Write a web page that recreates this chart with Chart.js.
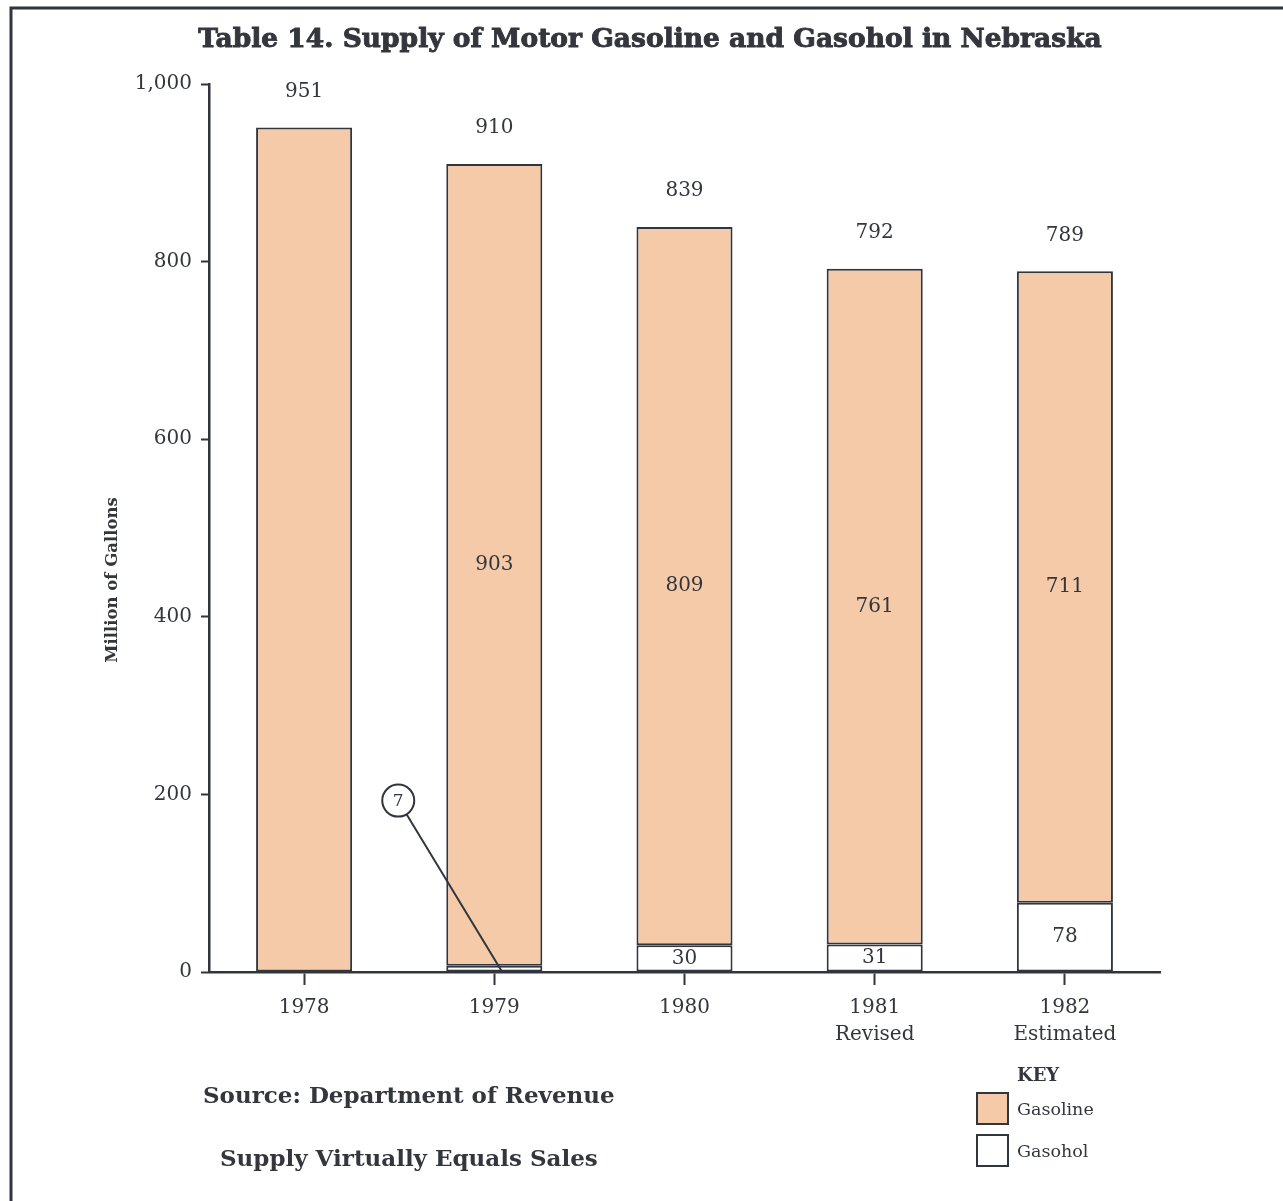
<!DOCTYPE html>
<html>
<head>
<meta charset="utf-8">
<script src="https://cdn.jsdelivr.net/npm/chart.js@4.4.0/dist/chart.umd.min.js"></script>
<style>
  body { margin: 0; background: #fff; }
  #wrap { width: 1283px; height: 1201px; }
</style>
</head>
<body>
<div id="wrap"><canvas id="chart" width="1283" height="1201"></canvas></div>
<script>
// Supply of motor gasoline and gasohol, million gallons
var years = [['1978'], ['1979'], ['1980'], ['1981', 'Revised'], ['1982', 'Estimated']];
var gasohol = [0, 7, 30, 31, 78];
var gasoline = [951, 903, 809, 761, 711];
var totals = [951, 910, 839, 792, 789];
var yTicks = [0, 200, 400, 600, 800, 1000];

var ink = '#30353e';
var textInk = '#33363c';
var peach = '#f4caa9';
var serif = '"DejaVu Serif", serif';

// labels, callout, key and notes drawn on top of the bars
var extras = {
    id: 'extras',
    afterDatasetsDraw: function (chart) {
        var c = chart.ctx;
        var yScale = chart.scales.y;
        var low = chart.getDatasetMeta(0).data;
        var high = chart.getDatasetMeta(1).data;
        c.save();

        // frame
        c.strokeStyle = ink;
        c.lineWidth = 3;
        c.beginPath();
        c.moveTo(11, 1201);
        c.lineTo(11, 8);
        c.lineTo(1283, 8);
        c.stroke();

        c.fillStyle = textInk;
        c.textAlign = 'center';
        c.textBaseline = 'middle';
        c.font = 'bold 26.5px ' + serif;
        c.strokeStyle = textInk;
        c.lineWidth = 0.9;
        var title = 'Table 14. Supply of Motor Gasoline and Gasohol in Nebraska';
        c.fillText(title, 650, 40);
        c.strokeText(title, 650, 40);

        c.save();
        c.translate(113, 580);
        c.rotate(-Math.PI / 2);
        c.font = 'bold 16.5px ' + serif;
        c.fillText('Million of Gallons', 0, 0);
        c.restore();

        // value labels
        c.font = '20px ' + serif;
        totals.forEach(function (t, i) {
            var top = high[i];
            c.fillText(String(t), top.x, top.y - 36);
            if (gasohol[i] > 0) {
                c.fillText(String(gasoline[i]), top.x, (top.y + top.base) / 2);
            }
            if (gasohol[i] >= 10) {
                c.fillText(String(gasohol[i]), low[i].x, (low[i].y + low[i].base) / 2);
            }
        });

        // callout for the tiny gasohol value
        gasohol.forEach(function (v, i) {
            if (v <= 0 || v >= 10) return;
            var bar = low[i];
            var cx = bar.x - bar.width, cy = yScale.getPixelForValue(193), r = 16;
            var ex = bar.x + 7, ey = yScale.getPixelForValue(v / 4);
            var ang = Math.atan2(ey - cy, ex - cx);
            c.strokeStyle = ink;
            c.lineWidth = 2;
            c.beginPath();
            c.arc(cx, cy, r, 0, Math.PI * 2);
            c.stroke();
            c.beginPath();
            c.moveTo(cx + r * Math.cos(ang), cy + r * Math.sin(ang));
            c.lineTo(ex, ey);
            c.stroke();
            c.font = '17px ' + serif;
            c.fillText(String(v), cx, cy + 1);
        });

        // key
        c.textAlign = 'left';
        c.font = 'bold 18px ' + serif;
        c.fillText('KEY', 1017, 1076);
        c.font = '17.5px ' + serif;
        var keys = [
            { label: 'Gasoline', fill: peach, y: 1093 },
            { label: 'Gasohol', fill: '#ffffff', y: 1135 }
        ];
        keys.forEach(function (k) {
            c.fillStyle = k.fill;
            c.fillRect(977, k.y, 31, 31);
            c.strokeStyle = ink;
            c.lineWidth = 2;
            c.strokeRect(977, k.y, 31, 31);
            c.fillStyle = textInk;
            c.fillText(k.label, 1017, k.y + 17);
        });

        // notes
        c.font = 'bold 23px ' + serif;
        c.fillText('Source: Department of Revenue', 203, 1097);
        c.fillText('Supply Virtually Equals Sales', 220, 1160);
        c.restore();
    }
};

var ctx = document.getElementById('chart').getContext('2d');
var chart = new Chart(ctx, {
    type: 'bar',
    data: {
        labels: years,
        datasets: [{
            label: 'Gasohol',
            data: gasohol,
            backgroundColor: '#ffffff',
            borderColor: ink,
            borderWidth: 2,
            borderSkipped: false
        }, {
            label: 'Gasoline',
            data: gasoline,
            backgroundColor: peach,
            borderColor: ink,
            borderWidth: 2,
            borderSkipped: false
        }]
    },
    options: {
        responsive: false,
        animation: false,
        categoryPercentage: 1,
        barPercentage: 0.505,
        layout: { padding: { top: 84, right: 123, left: 0, bottom: 0 } },
        plugins: {
            legend: { display: false },
            tooltip: { enabled: false }
        },
        scales: {
            x: {
                stacked: true,
                grid: { offset: false, drawOnChartArea: false, tickLength: 13, tickColor: ink, tickWidth: 2 },
                border: { color: ink, width: 2.5 },
                ticks: { color: textInk, padding: 9, font: { family: serif, size: 20, lineHeight: 1.35 } },
                afterFit: function (s) { s.height = 229; }
            },
            y: {
                stacked: true,
                min: yTicks[0],
                max: yTicks[yTicks.length - 1],
                afterBuildTicks: function (s) { s.ticks = yTicks.map(function (v) { return { value: v }; }); },
                grid: { drawOnChartArea: false, tickLength: 8, tickColor: ink, tickWidth: 2 },
                border: { color: ink, width: 2.5 },
                ticks: { color: textInk, padding: 9, font: { family: serif, size: 20 } },
                afterFit: function (s) { s.width = 209; }
            }
        }
    },
    plugins: [extras]
});
</script>
</body>
</html>
